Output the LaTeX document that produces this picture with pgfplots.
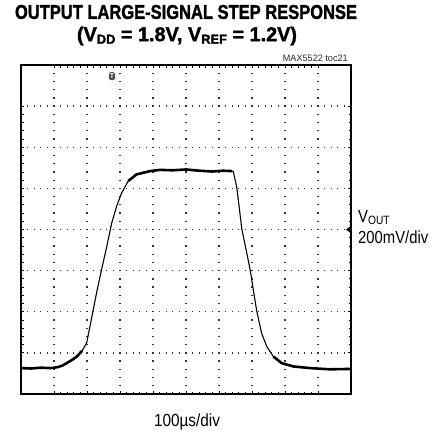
\documentclass[border=0pt]{standalone}
\usepackage{fontspec}
\setmainfont{Liberation Sans}
\newfontfamily\titlefont{Liberation Sans}[BoldFeatures={FakeBold=1.6}]
\usepackage{pgfplots}
\pgfplotsset{compat=1.18}
\begin{document}
\begin{tikzpicture}
\path[use as bounding box] (0,0) rectangle (443pt,437pt);
\begin{axis}[at={(21pt,43pt)}, anchor=south west, scale only axis, width=330pt, height=329pt,
 xmin=0,xmax=10,ymin=0,ymax=8,
 xtick={1,...,9}, ytick={1,...,7}, xticklabels={}, yticklabels={},
 minor x tick num=4, minor y tick num=4,
 major tick length=3pt, minor tick length=2.5pt, tick align=inside,
 tick style={black, line width=0.8pt},
 xmajorgrids, ymajorgrids,
 major x grid style={black!80, line width=1.3pt, dash pattern=on 1.3pt off 6.925pt, dash phase=0.65pt},
 major y grid style={black!80, line width=1.3pt, dash pattern=on 1.3pt off 5.3pt, dash phase=0.65pt},
 axis line style={line width=2.4pt},
]
\addplot[black, line width=1.1pt, line join=round] coordinates {
(0,0.63) (0.3,0.62) (0.6,0.64) (0.9,0.63) (1.1,0.65) (1.25,0.69) (1.38,0.75) (1.55,0.83) (1.69,0.91) (1.85,1.05) (1.99,1.24)
(2.14,1.85) (2.29,2.46) (2.44,3.02) (2.60,3.59) (2.75,4.16) (2.90,4.57) (3.05,4.89) (3.25,5.18) (3.50,5.34) (3.91,5.42) (4.21,5.45)
(4.6,5.44) (5.0,5.46) (5.4,5.43) (5.8,5.41) (6.1,5.43) (6.43,5.42) (6.54,5.02) (6.69,4.02) (6.94,3.04) (7.14,2.03) (7.29,1.48)
(7.45,1.15) (7.65,0.91) (7.90,0.75) (8.25,0.67) (8.76,0.63) (9.36,0.60) (10,0.61)};
\addplot[black, line width=2.6pt, line join=round] coordinates {
(0,0.63) (0.3,0.62) (0.6,0.64) (0.9,0.63) (1.1,0.65) (1.25,0.69) (1.38,0.75) (1.55,0.83) (1.69,0.91) (1.85,1.05)};
\addplot[black, line width=2.6pt, line join=round] coordinates {
(3.25,5.18) (3.50,5.34) (3.91,5.42) (4.21,5.45) (4.6,5.44) (5.0,5.46) (5.4,5.43) (5.8,5.41) (6.1,5.43) (6.40,5.42)};
\addplot[black, line width=2.6pt, line join=round] coordinates {
(7.65,0.91) (7.90,0.75) (8.25,0.67) (8.76,0.63) (9.36,0.60) (10,0.61)};
\node[fill=black!70, text=white, rounded corners=1.5pt, inner sep=0.6pt, font=\fontsize{7}{7}\bfseries, minimum width=6pt, minimum height=8pt] at (axis cs:2.76,7.73) {T};
\fill[black] (axis cs:10,4) ++(-5pt,0) -- ++(4pt,3pt) -- ++(0,-6pt) -- cycle;
\end{axis}
\node[inner sep=0pt] at (186pt,425pt) {\resizebox{342pt}{\height}{\titlefont\fontsize{20}{21}\selectfont\bfseries OUTPUT LARGE-SIGNAL STEP RESPONSE}};
\node[inner sep=0pt] at (187pt,401pt) {\resizebox{220pt}{\height}{\titlefont\fontsize{20}{21}\selectfont\bfseries (V\raisebox{-2.5pt}{\fontsize{13}{13}\selectfont DD} = 1.8V, V\raisebox{-2.5pt}{\fontsize{13}{13}\selectfont REF} = 1.2V)}};
\node[anchor=east, inner sep=0pt, text=black!85] at (348pt,379pt) {\resizebox{65pt}{\height}{\fontsize{9.3}{10}\selectfont MAX5522 toc21}};
\node[anchor=west, inner sep=0pt] at (358pt,219pt) {\scalebox{0.85}[1]{\fontsize{17.5}{18}\selectfont V\raisebox{-2pt}{\fontsize{12}{12}\selectfont OUT}}};
\node[anchor=west, inner sep=0pt] at (358pt,200pt) {\resizebox{70pt}{\height}{\fontsize{17.5}{18}\selectfont 200mV/div}};
\node[inner sep=0pt] at (187pt,15pt) {\resizebox{66pt}{\height}{\fontsize{17.5}{18}\selectfont 100µs/div}};
\end{tikzpicture}
\end{document}
